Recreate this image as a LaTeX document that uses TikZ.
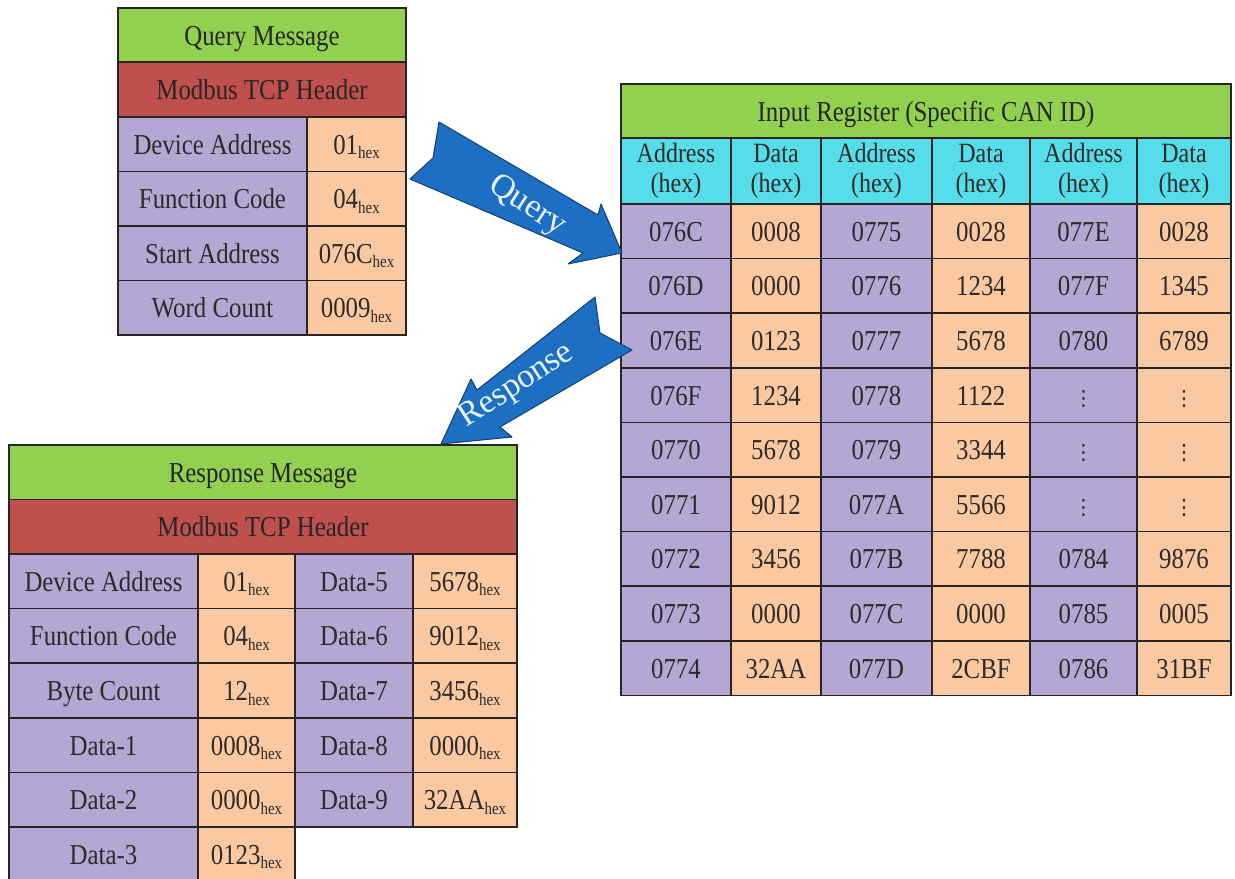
\documentclass[tikz,border=0pt]{standalone}
\usepackage{fontspec}
\setmainfont{Liberation Serif}[FakeStretch=0.86]
\newfontfamily\arrowfont{Liberation Serif}
\newfontfamily\symfont{DejaVu Sans}

\definecolor{hgreen}{HTML}{92D050}
\definecolor{hred}{HTML}{C0504D}
\definecolor{hcyan}{HTML}{55DDE9}
\definecolor{purp}{HTML}{B4A7D3}
\definecolor{orng}{HTML}{FAC9A1}
\definecolor{cellline}{HTML}{2A2424}
\definecolor{celltext}{HTML}{2E2A2A}
\definecolor{arrowblue}{HTML}{1D6FC4}
\definecolor{arrowedge}{HTML}{123F6E}
\definecolor{arrowtext}{HTML}{E8F5FF}

% one table cell given by its corner coordinates
\newcommand\cellat[7]{%
  \node[cell,#6,minimum width={(#4-#2)*1bp},minimum height={(#5-#3)*1bp}]
    (#1) at ({(#2+#4)/2},{(#3+#5)/2}) {#7};}
% value with a lowered "hex" suffix
\newcommand\hx[1]{#1\raisebox{-4.5bp}{\fontsize{17.5}{18}\selectfont hex}}
% continuation mark in the register table
\newcommand\cont{{\symfont\fontsize{21}{21}\selectfont ⋮}}
% one row of the input register table
\newcommand\regrow[7]{%
  \pgfmathsetmacro\ya{204+(#1-1)*54.6}%
  \pgfmathsetmacro\yb{\ya+54.6}%
  \cellat{r#1a}{621}{\ya}{731}{\yb}{addr}{#2}%
  \cellat{r#1b}{731}{\ya}{821}{\yb}{dat}{#3}%
  \cellat{r#1c}{821}{\ya}{932}{\yb}{addr}{#4}%
  \cellat{r#1d}{932}{\ya}{1030}{\yb}{dat}{#5}%
  \cellat{r#1e}{1030}{\ya}{1137}{\yb}{addr}{#6}%
  \cellat{r#1f}{1137}{\ya}{1231}{\yb}{dat}{#7}}

\tikzset{
  cell/.style={draw=cellline, line width=1.5bp, inner sep=0pt, outer sep=0pt,
    text=celltext, text height=22bp, text depth=2bp,
    font=\fontsize{29}{30}\selectfont},
  addr/.style={fill=purp},
  dat/.style={fill=orng},
  hdrg/.style={fill=hgreen, text=black!85},
  hdrr/.style={fill=hred, text=black!85},
  colh/.style={fill=hcyan, align=center, text height=, text depth=,
    font=\fontsize{28}{30}\selectfont},
  blockarrow/.style={fill=arrowblue, draw=arrowedge, line width=1bp, line join=round},
  arrowtxt/.style={text=arrowtext, inner sep=0pt, font=\arrowfont\fontsize{34}{34}\selectfont}
}

\begin{document}
\begin{tikzpicture}[x=1bp,y=-1bp]
\useasboundingbox (0,0) rectangle (1235,879);
\clip (0,0) rectangle (1235,879);
\fill[white] (0,0) rectangle (1235,879);

% ---- query message ----
\cellat{qtitle}{118}{8}{406}{62}{hdrg}{Query Message}
\cellat{qhead}{118}{62}{406}{117}{hdrr}{Modbus TCP Header}
\cellat{qdevL}{118}{117}{307}{171.5}{addr}{Device Address}
\cellat{qdevV}{307}{117}{406}{171.5}{dat}{\hx{01}}
\cellat{qfunL}{118}{171.5}{307}{226}{addr}{Function Code}
\cellat{qfunV}{307}{171.5}{406}{226}{dat}{\hx{04}}
\cellat{qstaL}{118}{226}{307}{280.5}{addr}{Start Address}
\cellat{qstaV}{307}{226}{406}{280.5}{dat}{\hx{076C}}
\cellat{qwrdL}{118}{280.5}{307}{335}{addr}{Word Count}
\cellat{qwrdV}{307}{280.5}{406}{335}{dat}{\hx{0009}}

% ---- input register ----
\cellat{rtitle}{621}{84}{1231}{138}{hdrg}{Input Register (Specific CAN ID)}
\cellat{h1}{621}{138}{731}{204}{colh}{Address\\(hex)}
\cellat{h2}{731}{138}{821}{204}{colh}{Data\\(hex)}
\cellat{h3}{821}{138}{932}{204}{colh}{Address\\(hex)}
\cellat{h4}{932}{138}{1030}{204}{colh}{Data\\(hex)}
\cellat{h5}{1030}{138}{1137}{204}{colh}{Address\\(hex)}
\cellat{h6}{1137}{138}{1231}{204}{colh}{Data\\(hex)}
\regrow{1}{076C}{0008}{0775}{0028}{077E}{0028}
\regrow{2}{076D}{0000}{0776}{1234}{077F}{1345}
\regrow{3}{076E}{0123}{0777}{5678}{0780}{6789}
\regrow{4}{076F}{1234}{0778}{1122}{\cont}{\cont}
\regrow{5}{0770}{5678}{0779}{3344}{\cont}{\cont}
\regrow{6}{0771}{9012}{077A}{5566}{\cont}{\cont}
\regrow{7}{0772}{3456}{077B}{7788}{0784}{9876}
\regrow{8}{0773}{0000}{077C}{0000}{0785}{0005}
\regrow{9}{0774}{32AA}{077D}{2CBF}{0786}{31BF}

% ---- response message ----
\cellat{stitle}{9}{445}{517}{499.5}{hdrg}{Response Message}
\cellat{shead}{9}{499.5}{517}{554}{hdrr}{Modbus TCP Header}
\cellat{s1L}{9}{554}{198}{608.6}{addr}{Device Address}
\cellat{s1V}{198}{554}{295}{608.6}{dat}{\hx{01}}
\cellat{s2L}{9}{608.6}{198}{663.2}{addr}{Function Code}
\cellat{s2V}{198}{608.6}{295}{663.2}{dat}{\hx{04}}
\cellat{s3L}{9}{663.2}{198}{717.8}{addr}{Byte Count}
\cellat{s3V}{198}{663.2}{295}{717.8}{dat}{\hx{12}}
\cellat{s4L}{9}{717.8}{198}{772.4}{addr}{Data-1}
\cellat{s4V}{198}{717.8}{295}{772.4}{dat}{\hx{0008}}
\cellat{s5L}{9}{772.4}{198}{827}{addr}{Data-2}
\cellat{s5V}{198}{772.4}{295}{827}{dat}{\hx{0000}}
\cellat{s6L}{9}{827}{198}{881.6}{addr}{Data-3}
\cellat{s6V}{198}{827}{295}{881.6}{dat}{\hx{0123}}
\cellat{t1L}{295}{554}{413}{608.6}{addr}{Data-5}
\cellat{t1V}{413}{554}{517}{608.6}{dat}{\hx{5678}}
\cellat{t2L}{295}{608.6}{413}{663.2}{addr}{Data-6}
\cellat{t2V}{413}{608.6}{517}{663.2}{dat}{\hx{9012}}
\cellat{t3L}{295}{663.2}{413}{717.8}{addr}{Data-7}
\cellat{t3V}{413}{663.2}{517}{717.8}{dat}{\hx{3456}}
\cellat{t4L}{295}{717.8}{413}{772.4}{addr}{Data-8}
\cellat{t4V}{413}{717.8}{517}{772.4}{dat}{\hx{0000}}
\cellat{t5L}{295}{772.4}{413}{827}{addr}{Data-9}
\cellat{t5V}{413}{772.4}{517}{827}{dat}{\hx{32AA}}

% ---- notched block arrows ----
\draw[blockarrow] (439,122) -- (433,158) -- (410,179) -- (583,253) -- (568,264)
  -- (622,253) -- (601,204) -- (598,215) -- cycle;
\node[arrowtxt, rotate=-33] (qlabel) at (527,206) {Query};

\draw[blockarrow] (595,297) -- (600,333) -- (632,350) -- (500,427) -- (512,437)
  -- (441,444) -- (471,379) -- (477,390) -- cycle;
\node[arrowtxt, rotate=33] (rlabel) at (517,386) {Response};
\end{tikzpicture}
\end{document}
